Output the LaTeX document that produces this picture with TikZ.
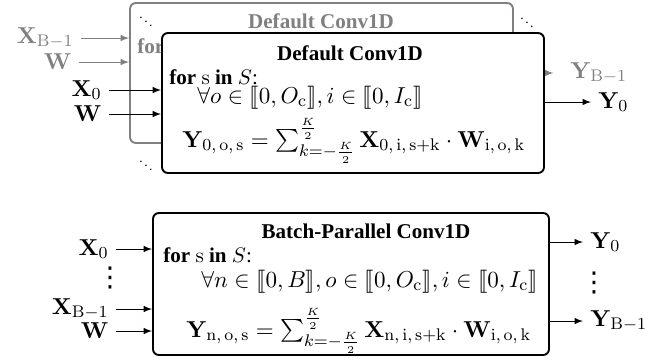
\documentclass[tikz,border=0pt]{standalone}
\usepackage{amsmath,amssymb}
\usepackage{stmaryrd}
\usepackage[no-math]{fontspec}
\setmainfont{Liberation Serif}
\newfontfamily\dotsfont{DejaVu Sans}
\usetikzlibrary{arrows, positioning}

\newcommand{\unitpx}{0.0167cm}

\begin{document}
\begin{tikzpicture}[x=\unitpx, y=-\unitpx, >=latex,
        convbox/.style={draw, line width=0.9pt, rounded corners=2.8pt, fill=white},
        faded/.style={black!50},
        mathsize/.style={font=\fontsize{10.8}{13}\selectfont},
        smalldots/.style={inner sep=0pt},
        coldots/.style={inner sep=0pt, font=\dotsfont\fontsize{13}{13}\selectfont}]
    \useasboundingbox (0,0) rectangle (672,360);

    % Default Conv1D, last batch element (behind)
    \node[convbox, draw=black!50, minimum width=383*\unitpx, minimum height=140*\unitpx] (back) at (321.5,73) {};
    \node[faded, anchor=base, font=\bfseries] (backtitle) at (321,28) {Default Conv1D};
    \node[faded, anchor=base west, inner sep=0pt] (backfor) at (137,53) {\textbf{for} $\mathrm{s}$ \textbf{in} $S$:};
    \node[smalldots] (dotsa) at (146,18) {\scalebox{0.65}{$\ddots$}};
    \node[smalldots] (dotsb) at (527,19) {\scalebox{0.65}{$\ddots$}};
    \node[smalldots] (dotsc) at (146,162) {\scalebox{0.65}{$\ddots$}};

    % inputs / output of the hidden element
    \node[faded, mathsize, anchor=east] (xlast) at (81,38) {$\mathbf{X}_{\mathrm{B-1}}$};
    \node[faded, mathsize, anchor=east] (wlast) at (79,62) {$\mathbf{W}$};
    \draw[faded, ->] (xlast.east) -- (xlast.east -| back.west);
    \draw[faded, ->] (wlast.east) -- (wlast.east -| back.west);
    \node[faded, mathsize, anchor=west] (ylast) at (563,73) {$\mathbf{Y}_{\mathrm{B-1}}$};
    \draw[faded, ->, shorten >=1.6mm] (back.east |- ylast) -- (ylast.west);

    % Default Conv1D, first batch element (front)
    \node[convbox, minimum width=382*\unitpx, minimum height=140*\unitpx] (front) at (353,103) {};
    \node[anchor=base, font=\bfseries] (fronttitle) at (350,60) {Default Conv1D};
    \node[anchor=base west, inner sep=0pt] (frontfor) at (169,84) {\textbf{for} $\mathrm{s}$ \textbf{in} $S$:};
    \node[mathsize, anchor=base west, inner sep=0pt] (frontrange) at (197,103) {$\forall o \in \llbracket 0, O_{\mathrm{c}} \rrbracket, i \in \llbracket 0, I_{\mathrm{c}} \rrbracket$};
    \node[mathsize, anchor=base west, inner sep=0pt] (fronteq) at (182,147) {$\mathbf{Y}_{0,\,\mathrm{o},\,\mathrm{s}} = \sum_{k=-\frac{K}{2}}^{\frac{K}{2}} \mathbf{X}_{0,\,\mathrm{i},\,\mathrm{s+k}} \cdot \mathbf{W}_{\mathrm{i},\,\mathrm{o},\,\mathrm{k}}$};

    \node[mathsize, anchor=east] (xfirst) at (109,90) {$\mathbf{X}_0$};
    \node[mathsize, anchor=east] (wfirst) at (109,114) {$\mathbf{W}$};
    \draw[->] (xfirst.east) -- (xfirst.east -| front.west);
    \draw[->] (wfirst.east) -- (wfirst.east -| front.west);
    \node[mathsize, anchor=west] (yfirst) at (591,102) {$\mathbf{Y}_0$};
    \draw[->] (front.east |- yfirst) -- (yfirst.west);

    % Batch-Parallel Conv1D
    \node[convbox, minimum width=396*\unitpx, minimum height=142*\unitpx] (batch) at (351,284) {};
    \node[anchor=base, font=\bfseries] (batchtitle) at (366,238) {Batch-Parallel Conv1D};
    \node[anchor=base west, inner sep=0pt] (batchfor) at (163,262) {\textbf{for} $\mathrm{s}$ \textbf{in} $S$:};
    \node[mathsize, anchor=base west, inner sep=0pt] (batchrange) at (201,287) {$\forall n \in \llbracket 0, B \rrbracket, o \in \llbracket 0, O_{\mathrm{c}} \rrbracket, i \in \llbracket 0, I_{\mathrm{c}} \rrbracket$};
    \node[mathsize, anchor=base west, inner sep=0pt] (batcheq) at (186,337) {$\mathbf{Y}_{\mathrm{n},\,\mathrm{o},\,\mathrm{s}} = \sum_{k=-\frac{K}{2}}^{\frac{K}{2}} \mathbf{X}_{\mathrm{n},\,\mathrm{i},\,\mathrm{s+k}} \cdot \mathbf{W}_{\mathrm{i},\,\mathrm{o},\,\mathrm{k}}$};

    \node[mathsize, anchor=east] (xzero) at (116,249) {$\mathbf{X}_0$};
    \node[coldots] (xdots) at (110,278) {⋮};
    \node[mathsize, anchor=east] (xend) at (116,309) {$\mathbf{X}_{\mathrm{B-1}}$};
    \node[mathsize, anchor=east] (wbatch) at (116,331) {$\mathbf{W}$};
    \draw[->] (xzero.east) -- (xzero.east -| batch.west);
    \draw[->] (xend.east) -- (xend.east -| batch.west);
    \draw[->] (wbatch.east) -- (wbatch.east -| batch.west);

    \node[mathsize, anchor=west] (yzero) at (583,242) {$\mathbf{Y}_0$};
    \node[coldots] (ydots) at (594,283) {⋮};
    \node[mathsize, anchor=west] (yend) at (583,321) {$\mathbf{Y}_{\mathrm{B-1}}$};
    \draw[->] (batch.east |- yzero) -- (yzero.west);
    \draw[->] (batch.east |- yend) -- (yend.west);
\end{tikzpicture}
\end{document}
